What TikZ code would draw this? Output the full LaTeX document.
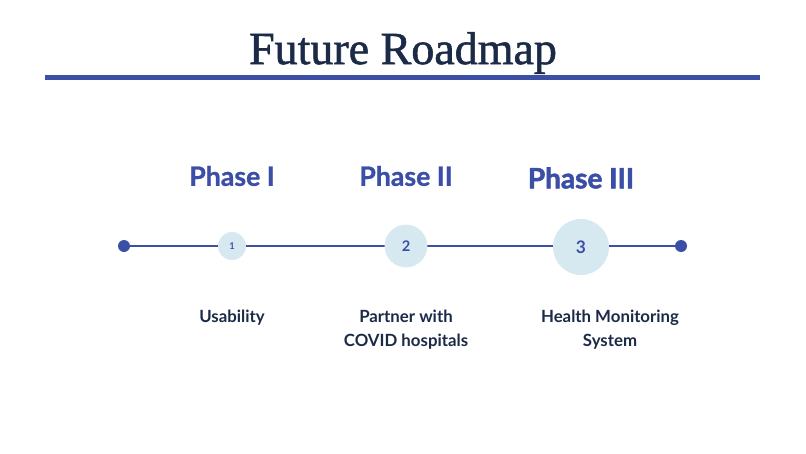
\documentclass[tikz,border=0pt]{standalone}
\usepackage{fontspec}
\setmainfont{Lato}
\newfontfamily\titlefont[FakeBold=1.2]{Liberation Serif}
\newfontfamily\phasefont[FakeBold=1.0]{Lato Bold}
\newfontfamily\phasefontb[FakeBold=2.0]{Lato Bold}
\definecolor{navy}{HTML}{1B2A47}
\definecolor{rblue}{HTML}{3B4FA6}
\definecolor{lblue}{HTML}{D7E9F0}
\tikzset{
  phaselbl/.style={text=rblue, font=\phasefont\fontsize{20}{22}\selectfont, anchor=center, inner sep=0pt},
  desc/.style={text=navy, font=\fontsize{12.6}{17.5}\selectfont\bfseries, align=center, anchor=north, inner sep=0pt},
  stage/.style={circle, fill=lblue, inner sep=0pt, text=rblue, font=\bfseries},
  enddot/.style={circle, fill=rblue, minimum size=9pt, inner sep=0pt},
}
\begin{document}
\begin{tikzpicture}[x=0.75pt,y=-0.75pt]
\useasboundingbox[fill=white] (0,0) rectangle (806,453);
\node[text=navy, font=\titlefont\fontsize{34.5}{38}\selectfont, inner sep=0pt] (title) at (403,53) {Future Roadmap};
\coordinate (rl) at (45,78);
\coordinate (rr) at (760,78);
\draw[rblue, line width=3.75pt] (rl) -- (rr);
% timeline
\node[enddot] (s) at (124,246) {};
\node[enddot] (e) at (681,246) {};
\draw[rblue, line width=1.6pt] (s) -- (e);
\node[stage, minimum size=21pt, font=\fontsize{7}{8}\selectfont\bfseries] (c1) at (232,246) {1};
\node[stage, minimum size=32pt, font=\fontsize{11}{12}\selectfont\bfseries] (c2) at (406,246) {2};
\node[stage, minimum size=42pt, font=\fontsize{13}{14}\selectfont\bfseries] (c3) at (581,247) {3};
% phase labels
\node[phaselbl] (p1) at (232,176) {Phase I};
\node[phaselbl] (p2) at (406,176) {Phase II};
\node[phaselbl, font=\phasefontb\fontsize{21}{23}\selectfont] (p3) at (581,178) {Phase III};
% descriptions
\node[desc] (d1) at (232,310) {Usability};
\node[desc] (d2) at (406,310) {Partner with\\COVID hospitals};
\node[desc] (d3) at (610,310) {Health Monitoring\\System};
\end{tikzpicture}
\end{document}
